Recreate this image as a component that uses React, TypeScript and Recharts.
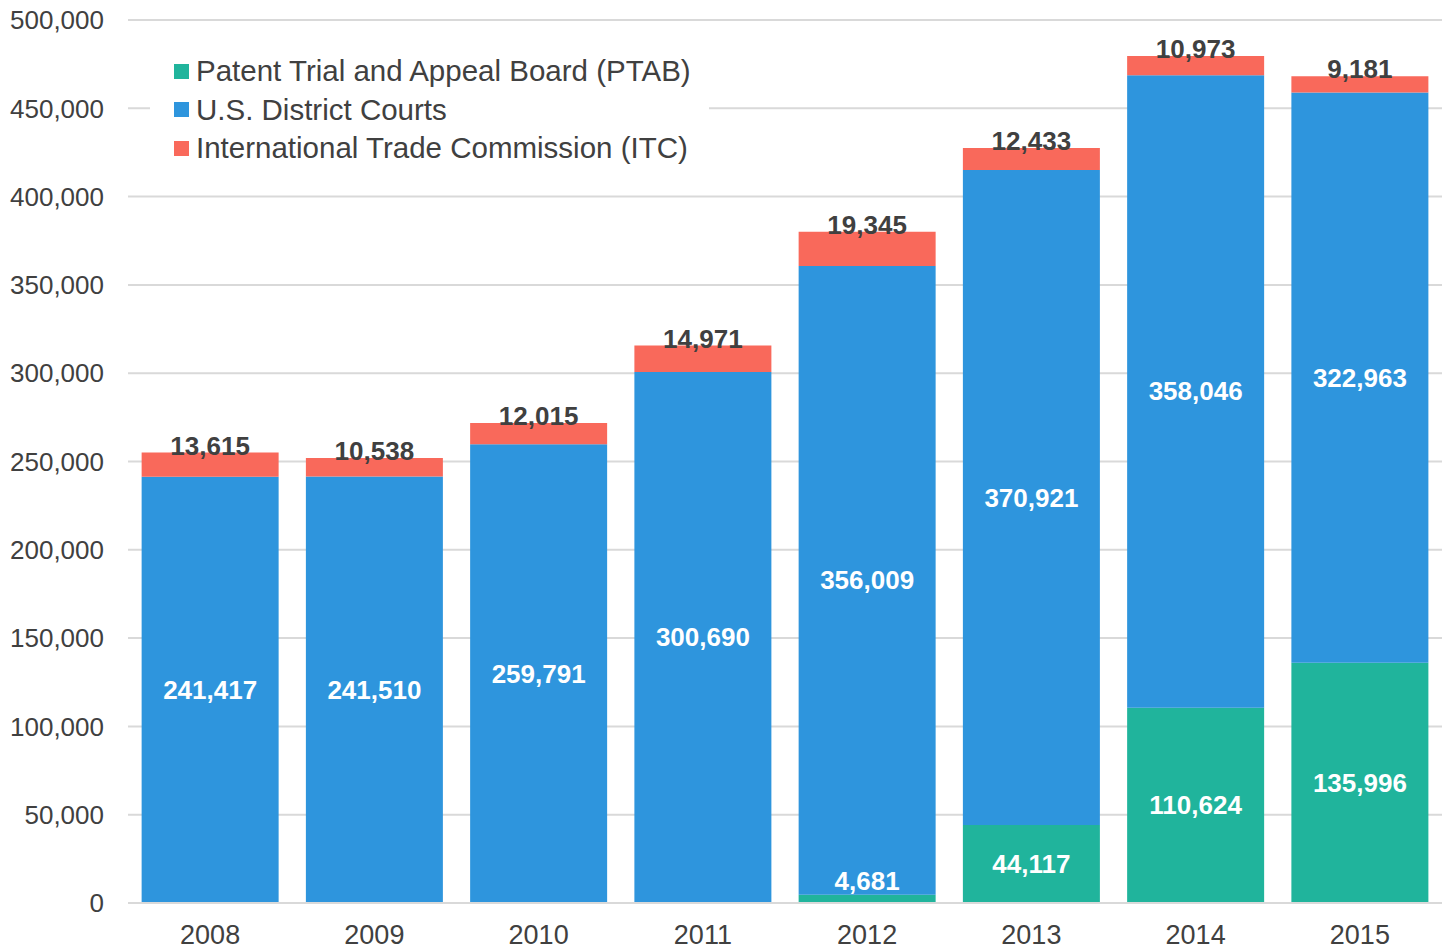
import { BarChart, Bar, XAxis, YAxis, CartesianGrid, LabelList } from 'recharts'

const years = ['2008', '2009', '2010', '2011', '2012', '2013', '2014', '2015']
const ptab = [0, 0, 0, 0, 4681, 44117, 110624, 135996]
const courts = [241417, 241510, 259791, 300690, 356009, 370921, 358046, 322963]
const itc = [13615, 10538, 12015, 14971, 19345, 12433, 10973, 9181]
const yTicks = [0, 50000, 100000, 150000, 200000, 250000, 300000, 350000, 400000, 450000, 500000]

const SERIES = [
  { key: 'ptab', label: 'Patent Trial and Appeal Board (PTAB)', color: '#20b49c' },
  { key: 'courts', label: 'U.S. District Courts', color: '#2e95dd' },
  { key: 'itc', label: 'International Trade Commission (ITC)', color: '#f9695b' },
]

const data = years.map((year, i) => ({
  year,
  ptab: ptab[i],
  courts: courts[i],
  itc: itc[i],
}))

const FONT = '"Liberation Sans", Arial, sans-serif'
const fmt = (v: number) => v.toLocaleString('en-US')

const InsideLabel = (props: any) => {
  const { x, y, width, height, value } = props
  if (!value) return null
  const small = height < 30
  return (
    <text
      x={x + width / 2}
      y={small ? y - 14 : y + height / 2}
      textAnchor="middle"
      dominantBaseline="central"
      fill="#ffffff"
      fontSize={26}
      fontWeight="bold"
      fontFamily={FONT}
    >
      {fmt(value)}
    </text>
  )
}

const TopLabel = (props: any) => {
  const { x, y, width, value } = props
  return (
    <text
      x={x + width / 2}
      y={y - 7}
      textAnchor="middle"
      dominantBaseline="central"
      fill="#404040"
      fontSize={26}
      fontWeight="bold"
      fontFamily={FONT}
    >
      {fmt(value)}
    </text>
  )
}

// legend drawn over the plot, white box hides the gridline behind it
const LegendBox = () => (
  <div
    style={{
      position: 'absolute',
      left: 150,
      top: 50,
      background: '#fff',
      padding: '2px 18px 4px 24px',
      fontFamily: FONT,
    }}
  >
    {SERIES.map((s) => (
      <div key={s.key} style={{ display: 'flex', alignItems: 'center', height: 38.5 }}>
        <span style={{ width: 15, height: 15, background: s.color, marginRight: 7, display: 'inline-block' }} />
        <span style={{ fontSize: 29.5, color: '#404040' }}>{s.label}</span>
      </div>
    ))}
  </div>
)

export default function App() {
  return (
    <div style={{ position: 'absolute', left: 0, top: 0, width: 1448, height: 950, background: '#fff' }}>
      <BarChart
        width={1448}
        height={950}
        data={data}
        margin={{ top: 20, right: 6, left: 0, bottom: 7 }}
        barCategoryGap="8.3%"
      >
        <CartesianGrid vertical={false} stroke="#d9d9d9" strokeWidth={2} />
        <XAxis
          dataKey="year"
          height={40}
          tickLine={false}
          axisLine={{ stroke: '#d9d9d9', strokeWidth: 2 }}
          tickMargin={16}
          tick={{ fontSize: 27, fill: '#404040', fontFamily: FONT }}
        />
        <YAxis
          width={128}
          domain={[0, 500000]}
          ticks={yTicks}
          tickFormatter={fmt}
          tickLine={false}
          axisLine={false}
          tickMargin={18}
          tick={{ fontSize: 26, fill: '#404040', fontFamily: FONT }}
        />
        <Bar dataKey="ptab" stackId="a" fill="#20b49c" isAnimationActive={false}>
          <LabelList dataKey="ptab" content={<InsideLabel />} />
        </Bar>
        <Bar dataKey="courts" stackId="a" fill="#2e95dd" isAnimationActive={false}>
          <LabelList dataKey="courts" content={<InsideLabel />} />
        </Bar>
        <Bar dataKey="itc" stackId="a" fill="#f9695b" isAnimationActive={false}>
          <LabelList dataKey="itc" content={<TopLabel />} />
        </Bar>
      </BarChart>
      <LegendBox />
    </div>
  )
}
